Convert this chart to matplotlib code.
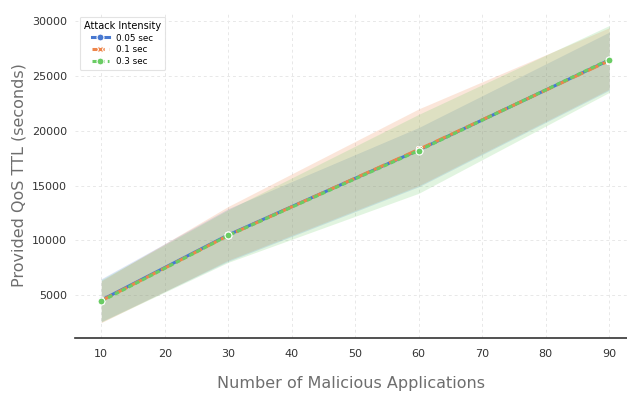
import matplotlib
matplotlib.use("Agg")
import matplotlib.pyplot as plt
import numpy as np

x = [10, 30, 60, 90]
labels = ["0.05 sec", "0.1 sec", "0.3 sec"]
means = {
    "0.05 sec": [4550, 10500, 18250, 26450],
    "0.1 sec": [4500, 10450, 18300, 26400],
    "0.3 sec": [4450, 10450, 18200, 26500],
}
lower = {
    "0.05 sec": [2600, 8100, 14900, 23700],
    "0.1 sec": [2500, 8200, 15000, 23800],
    "0.3 sec": [2550, 8000, 14300, 23500],
}
upper = {
    "0.05 sec": [6500, 12900, 20300, 29000],
    "0.1 sec": [6300, 13100, 22000, 29400],
    "0.3 sec": [6400, 12800, 21500, 29600],
}
colors = ["#4878d0", "#ee854a", "#6acc64"]
dashes = [(None, None), (4, 1.5), (1.5, 1)]
markers = ["o", "X", "o"]

fig = plt.figure(figsize=(6.27, 3.93), dpi=100)
ax = fig.add_axes([0.12, 0.14, 0.88, 0.829])
ax.set_facecolor("white")
for i, lab in enumerate(labels):
    ax.fill_between(x, lower[lab], upper[lab], color=colors[i], alpha=0.2, linewidth=0)
for i, lab in enumerate(labels):
    kw = {}
    if i > 0:
        kw["dashes"] = dashes[i]
    ax.plot(x, means[lab], color=colors[i], lw=2.2, marker=markers[i],
            markersize=5, markeredgecolor="white",
            markeredgewidth=0.8, label=lab, **kw)

ax.set_xlim(5.9, 92.8)
ax.set_ylim(1100, 30820)
ax.set_xticks([10, 20, 30, 40, 50, 60, 70, 80, 90])
ax.set_yticks([5000, 10000, 15000, 20000, 25000, 30000])
ax.grid(True, linestyle=(0, (3, 3)), color="#e8e8e8", linewidth=0.7)
ax.set_axisbelow(True)
for s in ["left", "right", "top"]:
    ax.spines[s].set_visible(False)
ax.spines["bottom"].set_color("#333333")
ax.spines["bottom"].set_linewidth(1.2)
ax.tick_params(axis="both", length=0, labelsize=8, colors="#333333", pad=6)
ax.tick_params(axis="x", pad=8)
ax.set_xlabel("Number of Malicious Applications", fontsize=11.5, color="#6e6e6e", labelpad=12)
ax.set_ylabel("Provided QoS TTL (seconds)", fontsize=11.5, color="#6e6e6e", labelpad=4)

leg = ax.legend(title="Attack Intensity", loc="upper left", fontsize=6.3,
                title_fontsize=7, frameon=True, handlelength=2.0,
                borderpad=0.5, labelspacing=0.3, bbox_to_anchor=(0.0, 1.0))
leg.get_frame().set_edgecolor("#dddddd")
leg.get_frame().set_linewidth(0.8)

fig.savefig("out.png", dpi=100, facecolor="white")
